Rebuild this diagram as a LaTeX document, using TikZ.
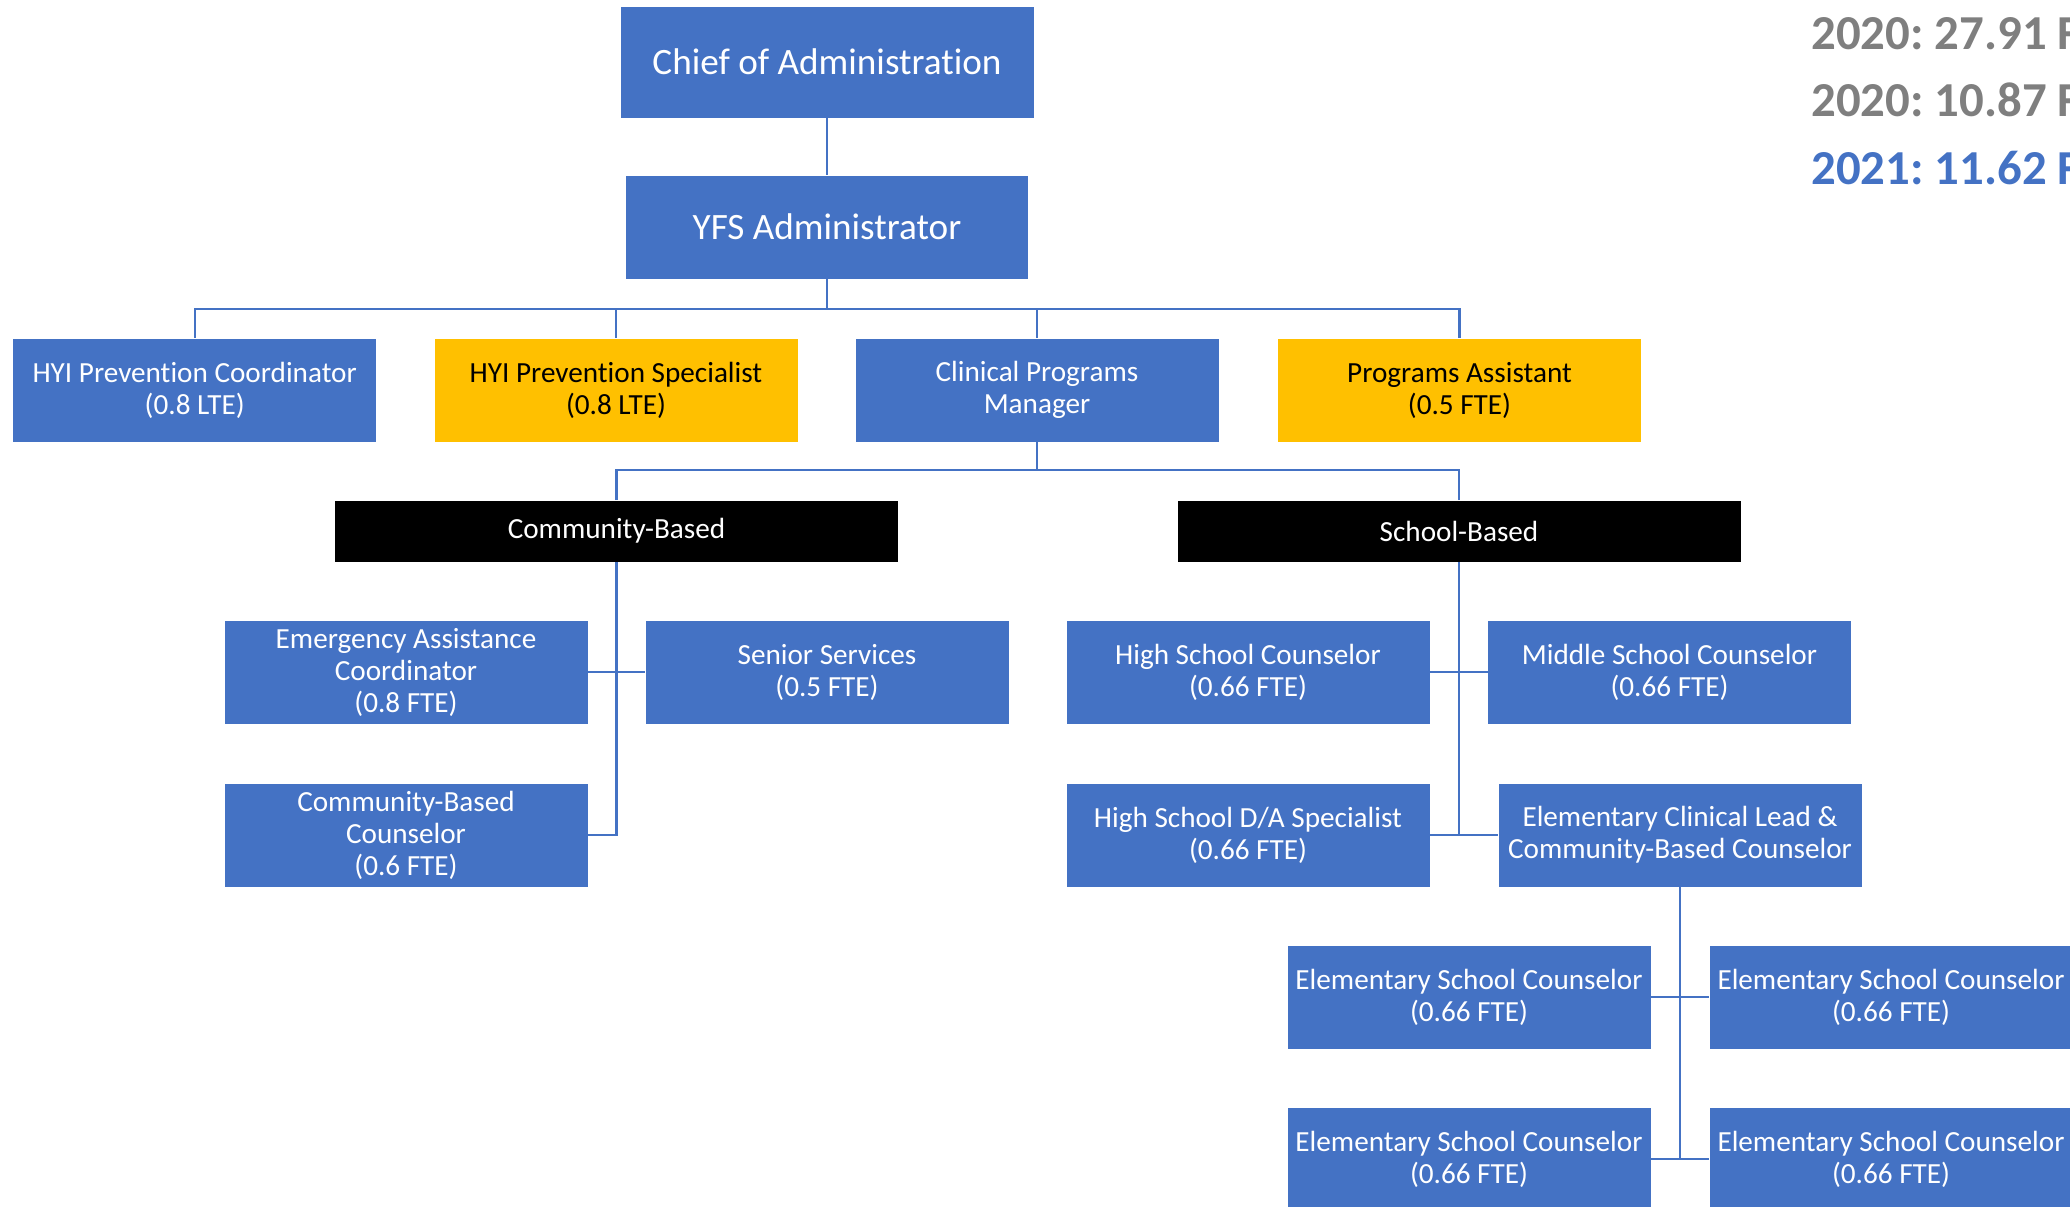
\documentclass[tikz,border=0pt]{standalone}
\usepackage{fontspec}
\setmainfont{Carlito}[Ligatures={NoCommon}]
\frenchspacing
\definecolor{boxblue}{HTML}{4472C4}
\definecolor{boxgold}{HTML}{FFC000}
\definecolor{linkblue}{HTML}{4472C4}
\definecolor{notegray}{HTML}{7F7F7F}
\begin{document}
\begin{tikzpicture}[x=0.5pt,y=-0.5pt,
  unit/.style={rectangle, inner sep=0pt, align=center, text=white, fill=boxblue,
    minimum width=181.5pt, minimum height=51.5pt,
    font=\fontsize{14.6}{16}\selectfont},
  gold/.style={unit, fill=boxgold, text=black},
  topbox/.style={unit, font=\fontsize{18.6}{22}\selectfont},
  group/.style={unit, fill=black, minimum width=281.5pt, minimum height=30.5pt},
  conn/.style={draw=linkblue, line width=1.2pt},
  note/.style={anchor=west, inner sep=0pt, font=\fontsize{24.4}{28}\selectfont\bfseries}]
\useasboundingbox (0,0) rectangle (2070,1206);
\clip (0,0) rectangle (2070,1206);

% leadership
\node[topbox, minimum width=206.5pt, minimum height=55.5pt] (chief) at (827,62) {Chief of Administration};
\node[topbox, minimum width=201.3pt] (yfs) at (827,227) {YFS Administrator};

% second row
\node[unit] (hyic) at (194.7,390) {HYI Prevention Coordinator\\(0.8 LTE)};
\node[gold] (hyis) at (616,390) {HYI Prevention Specialist\\(0.8 LTE)};
\node[unit] (cpm) at (1037,390) {Clinical Programs\\Manager};
\node[gold] (pa) at (1459.5,390) {Programs Assistant\\(0.5 FTE)};

% program groups
\node[group] (comm) at (616.5,531) {Community-Based};
\node[group] (school) at (1459,531) {School-Based};

% community-based staff
\node[unit] (ea) at (406,672) {Emergency Assistance\\Coordinator\\(0.8 FTE)};
\node[unit] (ss) at (827,672) {Senior Services\\(0.5 FTE)};
\node[unit] (cbc) at (406,835) {Community-Based\\Counselor\\(0.6 FTE)};

% school-based staff
\node[unit] (hsc) at (1248,672) {High School Counselor\\(0.66 FTE)};
\node[unit] (msc) at (1669.5,672) {Middle School Counselor\\(0.66 FTE)};
\node[unit] (hsda) at (1248,835) {High School D/A Specialist\\(0.66 FTE)};
\node[unit] (ecl) at (1680,835) {Elementary Clinical Lead \&\\Community-Based Counselor};

% elementary counselors
\node[unit] (es1) at (1469,997) {Elementary School Counselor\\(0.66 FTE)};
\node[unit] (es2) at (1891,997) {Elementary School Counselor\\(0.66 FTE)};
\node[unit] (es3) at (1469,1159) {Elementary School Counselor\\(0.66 FTE)};
\node[unit] (es4) at (1891,1159) {Elementary School Counselor\\(0.66 FTE)};

% staffing totals, running off the right edge
\node[note, text=notegray] (t1) at (1811,34) {2020: 27.91 FTE};
\node[note, text=notegray] (t2) at (1811,100) {2020: 10.87 FTE};
\node[note, text=boxblue] (t3) at (1811,168) {2021: 11.62 FTE};

% connectors
\coordinate (bar1) at (827,309);
\coordinate (bar2) at (1037,470);
\draw[conn] (chief) -- (yfs);
\draw[conn] (yfs.south) -- (bar1);
\draw[conn] (hyic.north) |- (bar1);
\draw[conn] (hyis.north) |- (bar1);
\draw[conn] (cpm.north) |- (bar1);
\draw[conn] (pa.north) |- (bar1);

\draw[conn] (cpm.south) -- (bar2);
\draw[conn] (comm.north) |- (bar2);
\draw[conn] (school.north) |- (bar2);

\draw[conn] (comm.south) |- (cbc.east);
\draw[conn] (ea.east) -- (ss.west);

\draw[conn] (school.south) -- (school.south |- hsda.east);
\draw[conn] (hsc.east) -- (msc.west);
\draw[conn] (hsda.east) -- (ecl.west);

\draw[conn] (ecl.south) -- (ecl.south |- es3.east);
\draw[conn] (es1.east) -- (es2.west);
\draw[conn] (es3.east) -- (es4.west);
\end{tikzpicture}
\end{document}
